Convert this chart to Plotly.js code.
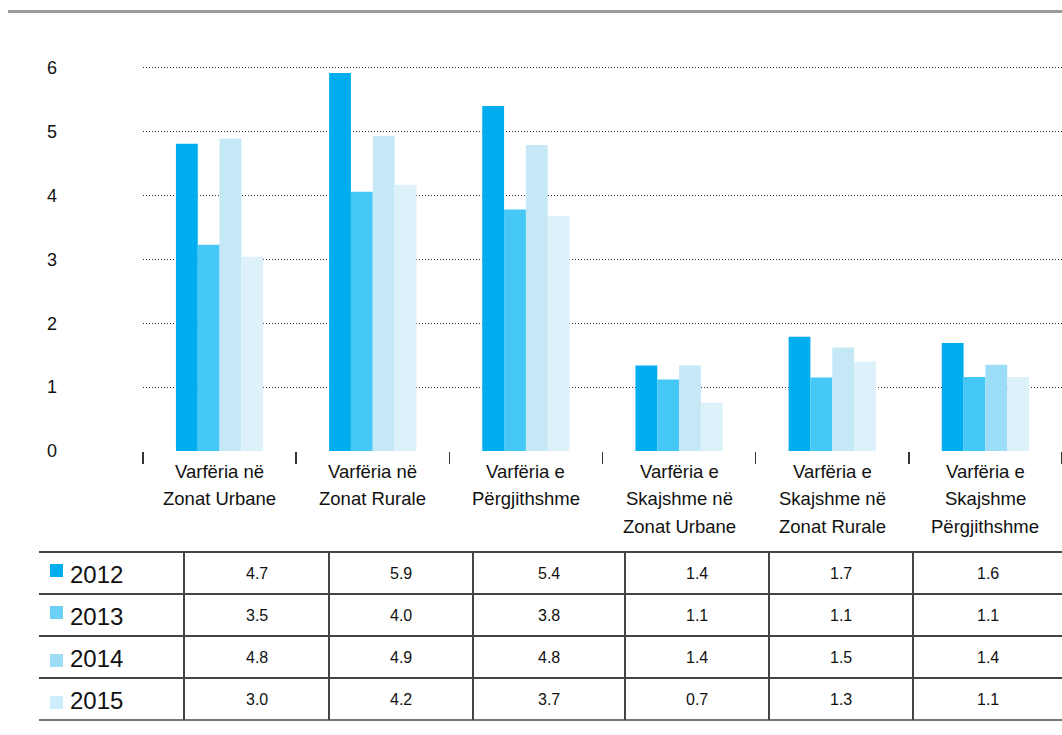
<!DOCTYPE html>
<html>
<head>
<meta charset="utf-8">
<script src="https://cdn.plot.ly/plotly-3.0.1.min.js"></script>
<style>
  html, body { margin: 0; padding: 0; background: #ffffff; }
  #chart { width: 1062px; height: 735px; }
</style>
</head>
<body>
<div id="chart"></div>
<script>
// ---- Data ----
const categories = [
  "Varfëria në<br>Zonat Urbane",
  "Varfëria në<br>Zonat Rurale",
  "Varfëria e<br>Përgjithshme",
  "Varfëria e<br>Skajshme në<br>Zonat Urbane",
  "Varfëria e<br>Skajshme në<br>Zonat Rurale",
  "Varfëria e<br>Skajshme<br>Përgjithshme"
];
const years = ["2012", "2013", "2014", "2015"];

// bar heights as drawn
const bars2012 = [4.81, 5.92, 5.40, 1.34, 1.79, 1.69];
const bars2013 = [3.23, 4.06, 3.78, 1.12, 1.15, 1.16];
const bars2014 = [4.89, 4.93, 4.79, 1.34, 1.62, 1.35];
const bars2015 = [3.04, 4.17, 3.68, 0.76, 1.40, 1.16];

// values printed in the table
const table2012 = ["4.7", "5.9", "5.4", "1.4", "1.7", "1.6"];
const table2013 = ["3.5", "4.0", "3.8", "1.1", "1.1", "1.1"];
const table2014 = ["4.8", "4.9", "4.8", "1.4", "1.5", "1.4"];
const table2015 = ["3.0", "4.2", "3.7", "0.7", "1.3", "1.1"];

// ---- Styles / layout geometry ----
const W = 1062, H = 735;
const ML = 143, MR = 0, MT = 55, MB = 284;
const plotW = W - ML - MR, plotH = H - MT - MB;
const px2x = px => (px - ML) / plotW;
const py2y = py => (H - MB - py) / plotH;

const barColors = ["#00AEEF", "#45C8F5", "#C5E8F7", "#DDF1FB"];
const colors2014 = ["#C5E8F7", "#C5E8F7", "#C5E8F7", "#C5E8F7", "#C5E8F7", "#9BDCF6"];
const swatchColors = ["#00AEEF", "#6DD0F5", "#9EDDF6", "#CDEEFA"];

const font = '"Liberation Sans", Arial, Helvetica, sans-serif';

const barSeries = [bars2012, bars2013, bars2014, bars2015];
const tableRows = [table2012, table2013, table2014, table2015];

const traces = years.map((yr, i) => ({
  type: "bar",
  name: yr,
  x: categories,
  y: barSeries[i],
  marker: { color: i === 2 ? colors2014 : barColors[i], line: { width: 0 } },
  hoverinfo: "x+y+name"
}));

// ---- Table geometry ----
const rowLines = [552, 594, 636, 678, 720];
const colLines = [184, 329, 473, 625, 769, 913, 1062];
const tableLeft = 39;
const swatchTop = [564, 606, 654, 696];
const labelLineY = [471, 498.5, 526];

const shapes = [];
shapes.push({ type: "line", xref: "paper", yref: "paper",
  x0: px2x(8), x1: px2x(1062), y0: py2y(11.5), y1: py2y(11.5),
  line: { color: "#9a9a9a", width: 3 } });
rowLines.forEach((py, k) => {
  shapes.push({ type: "line", xref: "paper", yref: "paper",
    x0: px2x(tableLeft), x1: px2x(1062), y0: py2y(py), y1: py2y(py),
    line: { color: k === rowLines.length - 1 ? "#777" : "#444", width: 2 } });
});
colLines.slice(0, 6).forEach(px => {
  shapes.push({ type: "line", xref: "paper", yref: "paper",
    x0: px2x(px), x1: px2x(px), y0: py2y(rowLines[0]), y1: py2y(rowLines[4]),
    line: { color: "#444", width: 2 } });
});
swatchTop.forEach((py, i) => {
  shapes.push({ type: "rect", xref: "paper", yref: "paper",
    x0: px2x(50), x1: px2x(63), y0: py2y(py + 13), y1: py2y(py),
    fillcolor: swatchColors[i], line: { width: 0 } });
});

const annotations = [];
// category labels, one annotation per line, placed on the category axis
categories.forEach(cat => {
  cat.split("<br>").forEach((line, k) => {
    annotations.push({ xref: "x", yref: "paper", x: cat, y: py2y(labelLineY[k]),
      xanchor: "center", yanchor: "middle", showarrow: false, text: line,
      font: { family: font, size: 18.5, color: "#111" } });
  });
});
// table
years.forEach((yr, i) => {
  const cy = (rowLines[i] + rowLines[i + 1]) / 2 + 1;
  annotations.push({ xref: "paper", yref: "paper", x: px2x(96), y: py2y(cy),
    xanchor: "center", yanchor: "middle", showarrow: false, text: yr,
    font: { family: font, size: 24, color: "#111" } });
  tableRows[i].forEach((v, j) => {
    const cx = (colLines[j] + colLines[j + 1]) / 2;
    annotations.push({ xref: "paper", yref: "paper", x: px2x(cx), y: py2y(cy - 1),
      xanchor: "center", yanchor: "middle", showarrow: false, text: v,
      font: { family: font, size: 16, color: "#111" } });
  });
});

const layout = {
  width: W, height: H,
  margin: { l: ML, r: MR, t: MT, b: MB, pad: 0 },
  paper_bgcolor: "#ffffff",
  plot_bgcolor: "#ffffff",
  showlegend: false,
  barmode: "group",
  bargap: 0.43,
  bargroupgap: 0,
  xaxis: {
    type: "category",
    tickson: "boundaries",
    ticks: "outside",
    ticklen: 12,
    tickwidth: 1.5,
    tickcolor: "#333",
    showticklabels: false,
    showgrid: false,
    showline: false,
    zeroline: false,
    automargin: false
  },
  yaxis: {
    range: [0, 6.2],
    dtick: 1,
    tick0: 0,
    showgrid: true,
    gridcolor: "#333",
    gridwidth: 1,
    griddash: "1px,2px",
    zeroline: false,
    showline: false,
    ticks: "",
    ticklabelstandoff: 85,
    tickfont: { family: font, size: 18, color: "#111" },
    automargin: false
  },
  shapes: shapes,
  annotations: annotations
};

Plotly.newPlot("chart", traces, layout, { displayModeBar: false, staticPlot: true });
</script>
</body>
</html>
